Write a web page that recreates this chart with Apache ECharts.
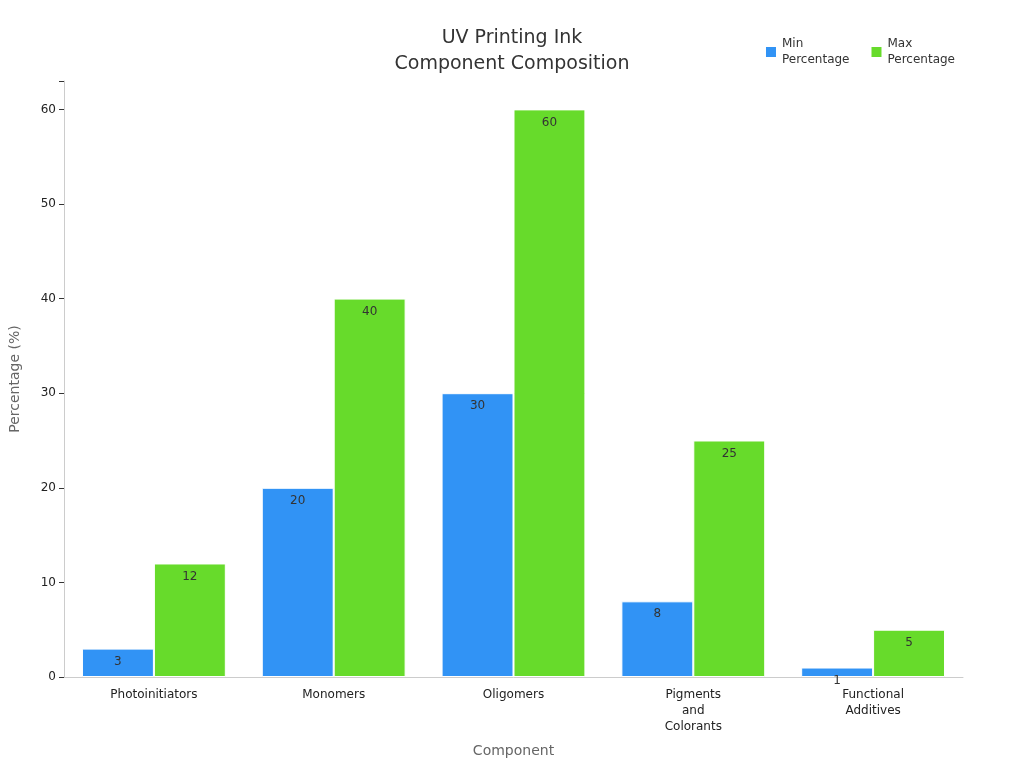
<!DOCTYPE html>
<html><head><meta charset="utf-8">
<script src="https://cdn.jsdelivr.net/npm/echarts@6/dist/echarts.min.js"></script>
<style>html,body{margin:0;padding:0;background:#fff}#c{width:1024px;height:768px}</style>
</head><body><div id="c"></div>
<script>
const categories = ['Photoinitiators','Monomers','Oligomers','Pigments\nand\nColorants','Functional\nAdditives'];
const minValues = [3,20,30,8,1];
const maxValues = [12,40,60,25,5];
const seriesNames = ['Min\nPercentage','Max\nPercentage'];
const chart = echarts.init(document.getElementById('c'));
const font = 'DejaVu Sans';
const lbl = {show:true,position:'insideTop',color:'#333',fontSize:12,fontFamily:font,offset:[0,2]};
chart.setOption({
  textStyle:{fontFamily:font},
  title:{text:'UV Printing Ink\nComponent Composition',left:'center',top:20,textStyle:{fontSize:19,fontWeight:'normal',color:'#333',lineHeight:26,fontFamily:font}},
  legend:{top:31,right:64,itemWidth:12,itemHeight:12,icon:'rect',itemGap:20,textStyle:{fontSize:12,color:'#333',lineHeight:16,fontFamily:font},data:seriesNames},
  grid:{left:60,right:61,top:81,bottom:91,containLabel:false},
  xAxis:{type:'category',data:categories,name:'Component',nameLocation:'middle',nameGap:67,
    nameTextStyle:{fontSize:14,color:'#666',fontFamily:font},
    axisLine:{lineStyle:{color:'#ccc'}},axisTick:{show:false},
    axisLabel:{color:'#222',fontSize:12,lineHeight:16,margin:10,interval:0,fontFamily:font}},
  yAxis:{type:'value',min:0,max:63,interval:10,name:'Percentage (%)',nameLocation:'middle',nameGap:42,
    nameTextStyle:{fontSize:14,color:'#666',fontFamily:font},
    axisLine:{show:true,lineStyle:{color:'#ccc'}},axisTick:{show:true,lineStyle:{color:'#333'}},splitLine:{show:false},
    axisLabel:{color:'#222',fontSize:12,fontFamily:font,formatter:v=>v%10?'':v}},
  series:[
    {name:seriesNames[0],type:'bar',data:minValues,barGap:'0%',barCategoryGap:'20%',itemStyle:{color:'#3193F5',borderColor:'#fff',borderWidth:1},label:lbl},
    {name:seriesNames[1],type:'bar',data:maxValues,itemStyle:{color:'#67DB2B',borderColor:'#fff',borderWidth:1},label:lbl}
  ]
});
</script></body></html>
